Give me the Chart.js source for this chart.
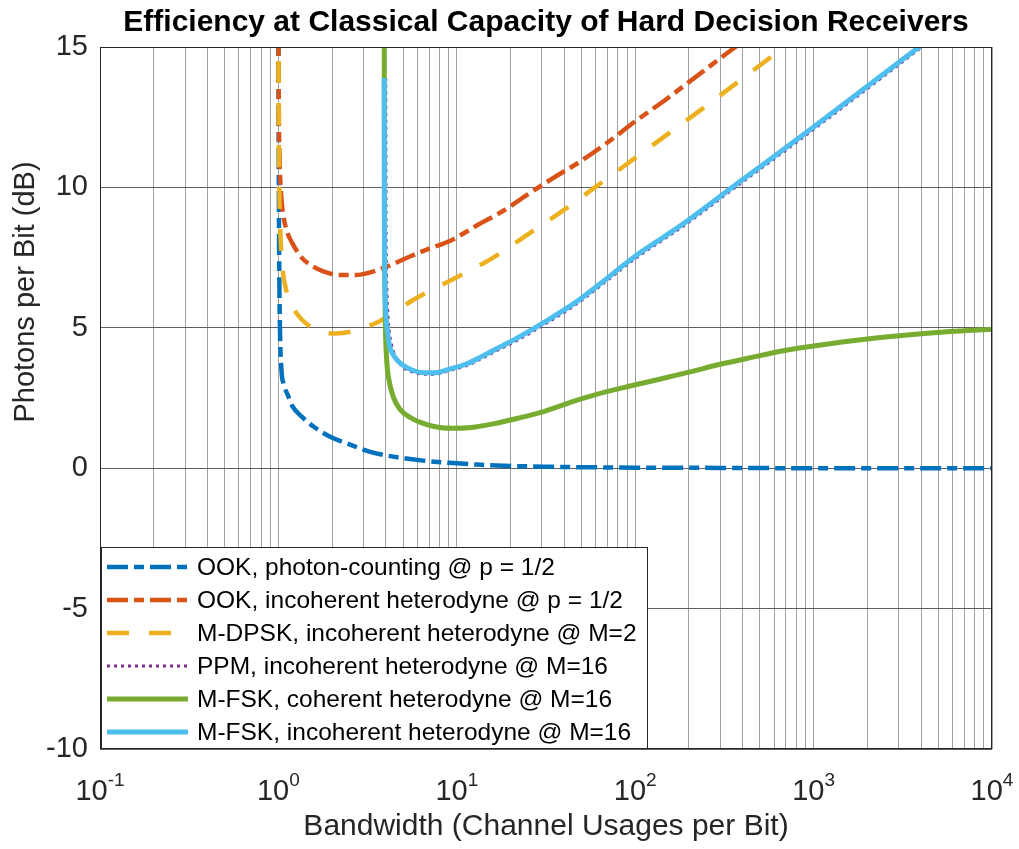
<!DOCTYPE html>
<html>
<head>
<meta charset="utf-8">
<title>Efficiency at Classical Capacity of Hard Decision Receivers</title>
<script src="https://cdn.jsdelivr.net/npm/chart.js@4.4.1/dist/chart.umd.min.js"></script>
<style>
  body { margin: 0; background: #fff; }
  canvas { display: block; }
</style>
</head>
<body>
<canvas id="chart" width="1019" height="849"></canvas>
<script>
// Bandwidth (channel usages per bit) and photons per bit (dB)

// OOK, photon-counting @ p = 1/2
const bwOokPc = [1.0, 1.003, 1.01, 1.02, 1.04, 1.07, 1.13, 1.2, 1.37, 1.6, 1.95, 2.5, 3.2, 3.9, 5, 6.5, 9, 13, 20, 35, 60, 100, 300, 1000, 3000, 10000];
const ppbOokPc = [16, 12, 7.5, 5.0, 3.5, 3.0, 2.6, 2.2, 1.8, 1.45, 1.12, 0.85, 0.6, 0.47, 0.36, 0.27, 0.19, 0.13, 0.08, 0.05, 0.03, 0.02, 0.01, 0, 0, 0];

// OOK, incoherent heterodyne @ p = 1/2
const bwOokIh = [1.0, 1.005, 1.015, 1.03, 1.05, 1.08, 1.12, 1.2, 1.35, 1.55, 1.8, 2.2, 2.7, 3.5, 4.5, 5.5, 7, 9.2, 13, 17.5, 25, 35, 50, 70, 100, 150, 200, 300, 400, 600];
const ppbOokIh = [16, 13, 11, 10, 9.3, 8.8, 8.4, 8.0, 7.5, 7.2, 7.0, 6.88, 6.88, 7.03, 7.3, 7.55, 7.82, 8.1, 8.65, 9.1, 9.75, 10.35, 10.95, 11.6, 12.35, 13.15, 13.75, 14.6, 15.2, 16.1];

// M-DPSK, incoherent heterodyne @ M=2
const bwDpsk = [1.0, 1.005, 1.015, 1.03, 1.06, 1.1, 1.17, 1.27, 1.4, 1.6, 1.85, 2.1, 2.5, 3.0, 3.6, 4.5, 5.4, 7, 10, 16, 26, 42, 64, 100, 160, 250, 385, 650, 900];
const ppbDpsk = [16, 12, 9.5, 8.1, 7.0, 6.4, 5.9, 5.5, 5.2, 4.95, 4.82, 4.8, 4.85, 5.0, 5.2, 5.55, 5.9, 6.3, 6.8, 7.5, 8.4, 9.3, 10.15, 11.05, 12.0, 12.9, 13.8, 14.9, 15.6];

// PPM, incoherent heterodyne @ M=16
const bwPpm = [4.0, 4.01, 4.04, 4.1, 4.2, 4.35, 4.6, 5.0, 5.7, 6.5, 7.5, 9, 11.4, 14, 17.5, 22, 30, 45, 63, 100, 150, 200, 385, 600, 1000, 2000, 3000, 3900, 5000];
const ppbPpm = [13.9, 9, 6.8, 5.6, 4.8, 4.3, 3.9, 3.6, 3.42, 3.35, 3.35, 3.47, 3.66, 3.93, 4.25, 4.57, 5.07, 5.77, 6.47, 7.47, 8.22, 8.77, 10.12, 11.02, 12.07, 13.52, 14.37, 14.93, 15.5];

// M-FSK, coherent heterodyne @ M=16
const bwFskCoh = [3.92, 3.93, 3.95, 3.98, 4.05, 4.15, 4.4, 4.8, 5.5, 6.8, 8, 9.5, 12, 16, 22, 30, 45, 60, 90, 133, 200, 300, 437, 700, 1000, 2000, 4700, 10000];
const ppbFskCoh = [16, 9, 6.5, 5.0, 3.8, 3.2, 2.55, 2.1, 1.8, 1.55, 1.45, 1.42, 1.45, 1.58, 1.78, 2.0, 2.38, 2.62, 2.9, 3.15, 3.42, 3.7, 3.93, 4.2, 4.35, 4.6, 4.82, 4.95];

// M-FSK, incoherent heterodyne @ M=16
const bwFskInc = [3.92, 3.93, 3.95, 4.0, 4.1, 4.2, 4.5, 5.0, 5.7, 6.5, 7.5, 9, 11.4, 14, 17.5, 22, 30, 45, 63, 100, 150, 200, 385, 600, 1000, 2000, 3000, 3900, 5000];
const ppbFskInc = [13.9, 9, 6.8, 5.6, 4.8, 4.35, 3.95, 3.67, 3.48, 3.4, 3.4, 3.52, 3.72, 4.0, 4.32, 4.65, 5.15, 5.85, 6.55, 7.55, 8.3, 8.85, 10.2, 11.1, 12.15, 13.6, 14.45, 15.0, 15.55];

const legendLabels = [
  'OOK, photon-counting @ p = 1/2',
  'OOK, incoherent heterodyne @ p = 1/2',
  'M-DPSK, incoherent heterodyne @ M=2',
  'PPM, incoherent heterodyne @ M=16',
  'M-FSK, coherent heterodyne @ M=16',
  'M-FSK, incoherent heterodyne @ M=16'
];

// x axis decades and their exponent labels, y axis ticks
const xDecades = [-1, 0, 1, 2, 3, 4];
const xTickExps = ['-1', '0', '1', '2', '3', '4'];
const yTicks = [-10, -5, 0, 5, 10, 15];

const titleText = 'Efficiency at Classical Capacity of Hard Decision Receivers';
const yTitleText = 'Photons per Bit (dB)';

const FONT = '"Liberation Sans", Arial, Helvetica, sans-serif';
Chart.defaults.font.family = FONT;
Chart.defaults.color = '#262626';

function pts(xs, ys) {
  return xs.map((x, i) => ({ x: x, y: ys[i] }));
}

// gridline values for the log axis: 1..9 in each decade
const xGrid = [];
for (let d = 0; d < xDecades.length - 1; d++) {
  for (let k = 1; k <= 9; k++) xGrid.push(k * Math.pow(10, xDecades[d]));
}
xGrid.push(Math.pow(10, xDecades[xDecades.length - 1]));

const series = [
  { data: pts(bwOokPc, ppbOokPc), color: '#0072BD', width: 4.5, dash: [21, 6, 10, 6] },
  { data: pts(bwOokIh, ppbOokIh), color: '#D95319', width: 4.5, dash: [21, 6, 10, 6] },
  { data: pts(bwDpsk, ppbDpsk), color: '#EDB120', width: 4.5, dash: [22, 20] },
  { data: pts(bwPpm, ppbPpm), color: '#7E2F8E', width: 3, dash: [3, 4] },
  { data: pts(bwFskCoh, ppbFskCoh), color: '#77AC30', width: 5, dash: [] },
  { data: pts(bwFskInc, ppbFskInc), color: '#4DBEEE', width: 5, dash: [] }
];

const datasets = series.map((s, i) => ({
  label: legendLabels[i],
  data: s.data,
  borderColor: s.color,
  backgroundColor: s.color,
  borderWidth: s.width,
  borderDash: s.dash,
  borderCapStyle: 'butt',
  pointRadius: 0,
  fill: false,
  cubicInterpolationMode: 'monotone',
  clip: 0,
  order: series.length - i   // later series drawn on top, like MATLAB
}));

// title, y label, frame, log tick labels with superscripts, legend box
const extrasPlugin = {
  id: 'extras',
  afterDraw(chart) {
    const ctx = chart.ctx;
    const a = chart.chartArea;
    const xs = chart.scales.x;

    ctx.save();
    ctx.strokeStyle = '#262626';
    ctx.lineWidth = 1;
    ctx.strokeRect(a.left + 0.5, a.top + 0.5, a.right - a.left - 1, a.bottom - a.top - 1);

    // title centred over the axes
    ctx.fillStyle = '#000';
    ctx.font = 'bold 30px ' + FONT;
    ctx.textAlign = 'center';
    ctx.textBaseline = 'middle';
    ctx.fillText(titleText, (a.left + a.right) / 2, 23);

    // y label
    ctx.save();
    ctx.translate(26, 292);
    ctx.rotate(-Math.PI / 2);
    ctx.fillStyle = '#262626';
    ctx.font = '29px ' + FONT;
    ctx.fillText(yTitleText, 0, 0);
    ctx.restore();

    // x tick labels: 10 with a raised exponent
    ctx.fillStyle = '#262626';
    ctx.textBaseline = 'alphabetic';
    xDecades.forEach((e, i) => {
      const px = xs.getPixelForValue(Math.pow(10, e));
      ctx.font = '29px ' + FONT;
      const wb = ctx.measureText('10').width;
      ctx.font = '19px ' + FONT;
      const we = ctx.measureText(xTickExps[i]).width;
      const x0 = px - (wb + we) / 2;
      ctx.font = '29px ' + FONT;
      ctx.textAlign = 'left';
      ctx.fillText('10', x0, a.bottom + 51);
      ctx.font = '19px ' + FONT;
      ctx.fillText(xTickExps[i], x0 + wb, a.bottom + 37);
    });

    // legend inside the axes, lower left
    const lx = a.left + 1, lw = 546, lh = 201;
    const ly = a.bottom - 1 - lh;
    ctx.fillStyle = '#fff';
    ctx.fillRect(lx, ly, lw, lh);
    ctx.strokeStyle = '#262626';
    ctx.lineWidth = 1;
    ctx.strokeRect(lx + 0.5, ly + 0.5, lw, lh);
    ctx.font = '24.5px ' + FONT;
    ctx.textBaseline = 'middle';
    ctx.textAlign = 'left';
    series.forEach((s, i) => {
      const ry = ly + 20 + i * 33;
      ctx.beginPath();
      ctx.setLineDash(s.dash);
      ctx.lineCap = 'butt';
      ctx.lineWidth = s.width;
      ctx.strokeStyle = s.color;
      ctx.moveTo(lx + 6, ry);
      ctx.lineTo(lx + 87, ry);
      ctx.stroke();
      ctx.setLineDash([]);
      ctx.fillStyle = '#000';
      ctx.fillText(legendLabels[i], lx + 96, ry + 1);
    });
    ctx.restore();
  }
};

new Chart(document.getElementById('chart'), {
  type: 'line',
  data: { datasets: datasets },
  options: {
    responsive: false,
    animation: false,
    devicePixelRatio: 1,
    layout: { padding: { left: 8, right: 27, top: 47, bottom: 4 } },
    plugins: {
      legend: { display: false },
      tooltip: { enabled: false },
      title: { display: false }
    },
    scales: {
      x: {
        type: 'logarithmic',
        min: 0.1,
        max: 10000,
        afterBuildTicks: (axis) => { axis.ticks = xGrid.map(v => ({ value: v })); },
        afterFit: (axis) => { axis.height = 96; },
        ticks: { display: false },
        grid: { color: '#a0a0a0', lineWidth: 1, drawTicks: false },
        border: { display: false },
        title: {
          display: true,
          text: 'Bandwidth (Channel Usages per Bit)',
          font: { size: 30 },
          padding: { top: 0, bottom: 0 }
        }
      },
      y: {
        type: 'linear',
        min: -10,
        max: 15,
        afterBuildTicks: (axis) => { axis.ticks = yTicks.map(v => ({ value: v })); },
        afterFit: (axis) => { axis.width = 92; },
        ticks: { font: { size: 29 }, padding: 12 },
        grid: { color: '#606060', lineWidth: 1, drawTicks: false },
        border: { display: false },
        title: { display: false }
      }
    }
  },
  plugins: [extrasPlugin]
});
</script>
</body>
</html>
